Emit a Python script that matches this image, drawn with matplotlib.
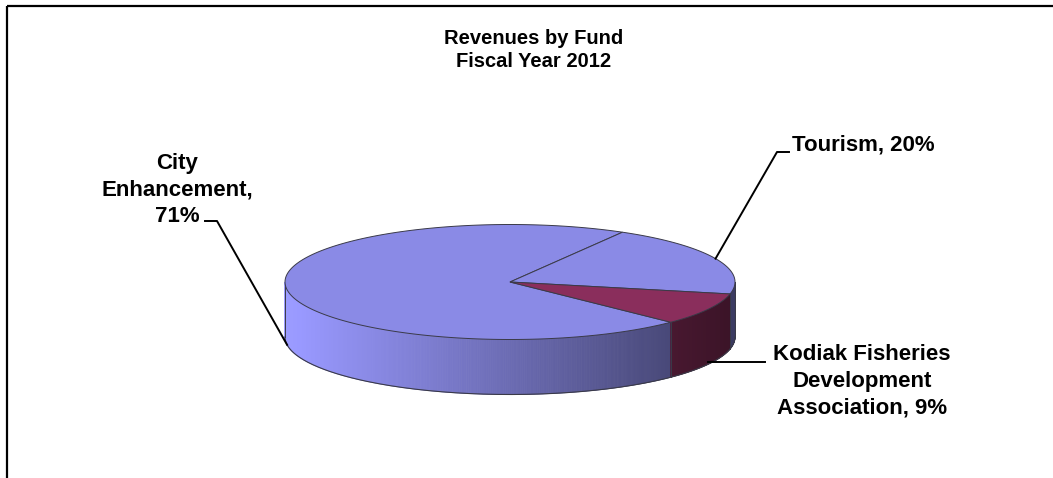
import numpy as np
import matplotlib
matplotlib.use('Agg')
import matplotlib.pyplot as plt
from matplotlib.patches import Polygon
from matplotlib.colors import to_rgb

funds = ['City Enhancement', 'Tourism', 'Kodiak Fisheries Development Association']
shares = [71, 20, 9]
label_names = ['City\nEnhancement,\n', 'Tourism, ', 'Kodiak Fisheries\nDevelopment\nAssociation, ']
fund_colors = ['#9999FF', '#9999FF', '#993366']
title = 'Revenues by Fund\nFiscal Year 2012'

plt.rcParams['font.family'] = ['Liberation Sans', 'DejaVu Sans']

W, H = 1053, 478
fig = plt.figure(figsize=(W / 100, H / 100), dpi=100)
ax = fig.add_axes([0, 0, 1, 1])
ax.set_xlim(0, W)
ax.set_ylim(H, 0)
ax.axis('off')

# chart area frame (only top and left edges fall inside the image)
ax.plot([7, W], [5.7, 5.7], color='black', lw=1.6, solid_capstyle='butt')
ax.plot([7, 7], [5.7, H], color='black', lw=1.6, solid_capstyle='butt')

# pie geometry: flattened disc with a visible side wall
cx, cy, a, b, depth = 510, 282, 225, 57.5, 55
start = -44.4  # first slice starts here and runs clockwise
edge_col = '#3a3a48'


def rim(t, dz=0.0):
    t = np.radians(t)
    return cx + a * np.cos(t), cy - b * np.sin(t) + dz


def shade(color, f):
    return tuple(min(1.0, c * f) for c in to_rgb(color))


bounds = start - 360 * np.concatenate([[0], np.cumsum(shares)]) / 100.0
wedges = [(bounds[i], bounds[i + 1]) for i in range(len(shares))]

# side wall, drawn as thin strips so the shading can change along the rim
for (t1, t2), col in zip(wedges, fund_colors):
    ts = np.linspace(t1, t2, int(abs(t1 - t2) * 3) + 2)
    for u, v in zip(ts[:-1], ts[1:]):
        m = 0.5 * (u + v)
        if np.sin(np.radians(m)) >= 0:
            continue
        f = 0.70 - 0.32 * np.cos(np.radians(m))
        x1, y1 = rim(u)
        x2, y2 = rim(v)
        poly = Polygon([(x1, y1), (x2, y2), (x2, y2 + depth), (x1, y1 + depth)],
                       closed=True, facecolor=shade(col, f), edgecolor=shade(col, f),
                       lw=0.6, zorder=2)
        ax.add_patch(poly)

# outline of the side wall
tb = np.linspace(180, 360, 200)
xb, yb = rim(tb, depth)
ax.plot(xb, yb, color=edge_col, lw=0.8, zorder=3)
for t in [180, 360] + [w[0] for w in wedges]:
    if np.sin(np.radians(t)) < -1e-6 or t % 180 == 0:
        x0, y0 = rim(t)
        ax.plot([x0, x0], [y0, y0 + depth], color=edge_col, lw=0.7, zorder=3)

# top face of each slice
for (t1, t2), col in zip(wedges, fund_colors):
    ts = np.linspace(t1, t2, 200)
    xs, ys = rim(ts)
    pts = [(cx, cy)] + list(zip(xs, ys))
    ax.add_patch(Polygon(pts, closed=True, facecolor=shade(col, 0.9),
                         edgecolor=edge_col, lw=0.7, zorder=4))

# data labels with leader lines
mids = [0.5 * (t1 + t2) for t1, t2 in wedges]
labels = [n + f'{s}%' for n, s in zip(label_names, shares)]
label_pos = [(177, 222, 'center', 'baseline'), (792, 151, 'left', 'baseline'),
             (862, 344, 'center', 'top')]
elbows = [[(217, 221), (205, 221)], [(777, 152), (789, 152)], [(765, None)]]

for mid, lab, (tx, ty, ha, va), elb in zip(mids, labels, label_pos, elbows):
    up = np.sin(np.radians(mid)) > 0
    ax_, ay_ = rim(mid, 0 if up else depth)
    px = [ax_] + [e[0] for e in elb]
    py = [ay_] + [e[1] if e[1] is not None else ay_ - 2 for e in elb]
    if elb[-1][1] is None:
        py[0] = py[-1]
    ax.plot(px, py, color='black', lw=1.4, zorder=5)
    ax.text(tx, ty, lab, ha=ha, va=va, fontsize=16, fontweight='bold',
            linespacing=1.35, zorder=6)

ax.text(534, 67, title, ha='center', va='baseline', fontsize=14.5, fontweight='bold',
        linespacing=1.25)

fig.savefig('out.png', dpi=100)
